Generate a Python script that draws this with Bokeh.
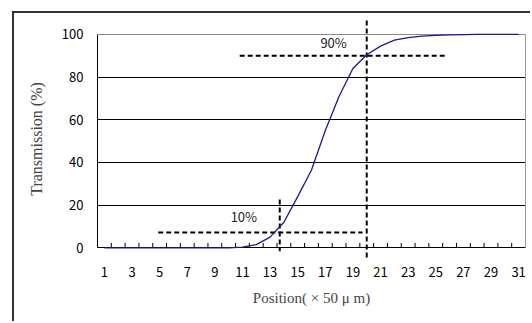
from bokeh.plotting import figure
from bokeh.models import Range1d, FixedTicker, Label, LinearAxis, Grid, ColumnDataSource
from bokeh.embed import file_html
from bokeh.resources import INLINE

# ---- data ----
positions = list(range(1, 32))
transmission = [0, 0, 0, 0, 0, 0, 0, 0, 0, 0,
                0.3, 1.5, 5, 12, 24, 36.5, 55, 71, 84, 90.5,
                94.5, 97.3, 98.5, 99.2, 99.6, 99.8, 99.9, 100, 100, 100, 100]
x_tick_values = list(range(1, 32, 2))
x_tick_labels = [str(v) for v in x_tick_values]
category_edges = [i + 0.5 for i in range(0, 32)]
y_ticks = [0, 20, 40, 60, 80, 100]

# reference (threshold) dashed lines
ref_x0 = [10.8, 20.0, 4.9, 13.7]
ref_y0 = [90, 106.5, 7.2, 22.7]
ref_x1 = [25.8, 20.0, 19.7, 13.7]
ref_y1 = [90, -4.7, 7.2, -1.6]
ref_texts = ["90%", "10%"]
ref_text_x = [17.6, 11.1]
ref_text_y = [96, 14.8]

FONT = "Noto Sans CJK JP"
SERIF = "Liberation Serif"
TICK_LEN = 2.3  # tick mark length in y units (~5px)

p = figure(width=518, height=310, output_backend="svg", toolbar_location=None,
           x_range=Range1d(0.5, 31.5), y_range=Range1d(-5, 107),
           min_border_left=83, min_border_top=6, min_border_bottom=65,
           min_border_right=7)
p.styles = {"margin-left": "12px", "margin-top": "11px",
            "border-left": "2px solid #333333", "border-top": "2px solid #333333"}
p.background_fill_color = "white"
p.border_fill_color = "white"
p.outline_line_color = None

# x axis (at frame bottom): labels at odd categories + title
xa = p.xaxis[0]
xa.ticker = FixedTicker(ticks=x_tick_values)
xa.major_label_overrides = {v: t for v, t in zip(x_tick_values, x_tick_labels)}
xa.major_tick_line_color = None
xa.major_tick_in = 0
xa.major_tick_out = 0
xa.minor_tick_line_color = None
xa.axis_line_color = None
xa.major_label_text_font = FONT
xa.major_label_text_font_size = "13px"
xa.major_label_text_color = "black"
xa.major_label_standoff = 8
xa.axis_label = "Position( × 50 μ m)"
xa.axis_label_text_font = SERIF
xa.axis_label_text_font_style = "normal"
xa.axis_label_text_font_size = "15px"
xa.axis_label_standoff = 10

# tick marks at category boundaries (pointing into the plot)
edges = ColumnDataSource(dict(x=category_edges, y0=[0] * len(category_edges),
                              y1=[TICK_LEN] * len(category_edges)))
p.segment("x", "y0", "x", "y1", source=edges, line_color="black", line_width=1)

# y axis
ya = p.yaxis[0]
ya.bounds = (0, 100)
ya.ticker = FixedTicker(ticks=y_ticks)
ya.major_tick_line_color = None
ya.major_tick_out = 0
ya.major_tick_in = 0
ya.minor_tick_line_color = None
ya.axis_line_color = "black"
ya.major_label_text_font = FONT
ya.major_label_text_font_size = "13px"
ya.major_label_text_color = "black"
ya.major_label_standoff = 14
ya.axis_label = "Transmission (%)"
ya.axis_label_text_font = SERIF
ya.axis_label_text_font_style = "normal"
ya.axis_label_text_font_size = "16px"
ya.axis_label_standoff = 14

# right plot-area border (gray)
yr = LinearAxis(bounds=(0, 100), ticker=FixedTicker(ticks=[]))
yr.axis_line_color = "#9a9a9a"
yr.major_tick_line_color = None
yr.minor_tick_line_color = None
yr.major_tick_out = 0
yr.major_label_standoff = 0
p.add_layout(yr, "right")

# grid (y=0 line acts as the category axis line)
p.xgrid.grid_line_color = None
p.ygrid.ticker = FixedTicker(ticks=[0, 20, 40, 60, 80])
p.ygrid.grid_line_color = "black"
p.ygrid.grid_line_width = 1
top_grid = Grid(dimension=1, ticker=FixedTicker(ticks=[100]),
                grid_line_color="#8a8a8a", grid_line_width=1)
p.add_layout(top_grid)

# dashed reference lines
ref = ColumnDataSource(dict(x0=ref_x0, y0=ref_y0, x1=ref_x1, y1=ref_y1))
p.segment("x0", "y0", "x1", "y1", source=ref, line_color="black",
          line_width=2, line_dash="5 3")

# curve
src = ColumnDataSource(dict(x=positions, y=transmission))
p.line("x", "y", source=src, line_color="#1a1a90", line_width=1.3, level="annotation")

for txt, lx, ly in zip(ref_texts, ref_text_x, ref_text_y):
    p.add_layout(Label(x=lx, y=ly, text=txt, text_font=FONT, text_font_size="13px",
                       text_color="#222222", text_align="center",
                       text_baseline="middle"))

open("out.html", "w").write(file_html(p, INLINE))
